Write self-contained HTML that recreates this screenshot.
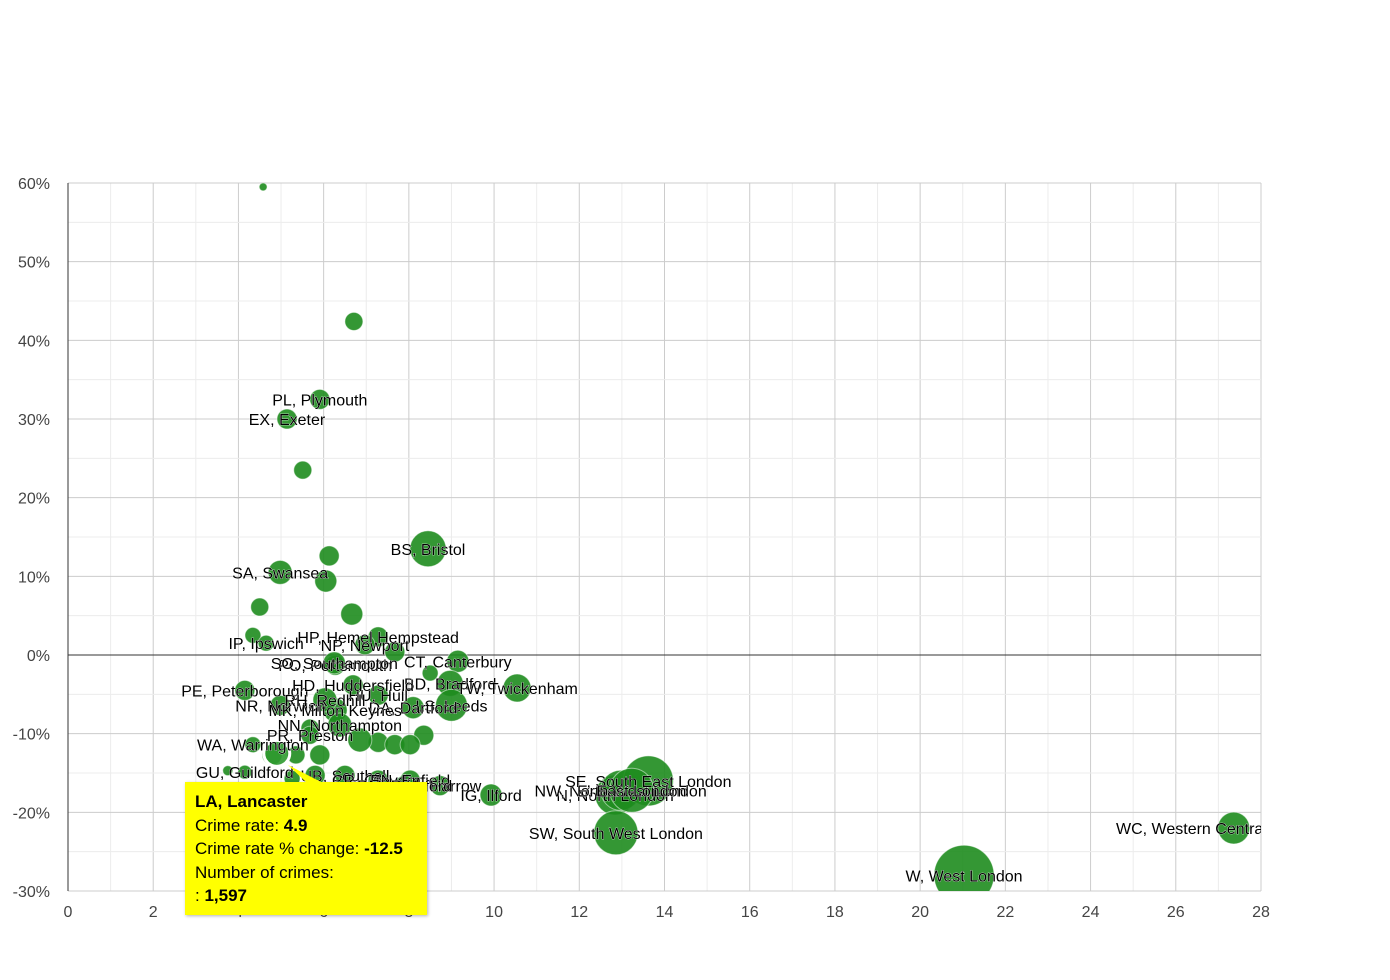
<!DOCTYPE html>
<html><head><meta charset="utf-8"><style>
body{margin:0;background:#fff;}
svg{display:block;font-family:"Liberation Sans",Arial,sans-serif;}
</style></head><body>
<svg id="chart" width="1390" height="980"></svg>
<script>
const codes=["X1","X2","PL, Plymouth","EX, Exeter","X5","BS, Bristol","X7","SA, Swansea","X9","X10","X11","X12","IP, Ipswich","HP, Hemel Hempstead","NP, Newport","CT, Canterbury","X17","PO, Portsmouth","SO, Southampton","X20","BD, Bradford","TW, Twickenham","PE, Peterborough","NR, Norwich","LS, Leeds","DA, Dartford","MK, Milton Keynes","HU, Hull","HD, Huddersfield","RH, Redhill","X31","NN, Northampton","X33","PR, Preston","X35","X36","X37","X38","X39","X40","WA, Warrington","X42","LA, Lancaster","X44","GU, Guildford","X46","X47","UB, Southall","CR, Croydon","EN, Enfield","HA, Harrow","IG, Ilford","N, North London","NW, North West London","SE, South East London","E, East London","SW, South West London","W, West London","WC, Western Central London","RM, Romford"];
const crimeRate=[4.58,6.71,5.91,5.14,5.51,8.45,6.13,4.98,6.05,4.5,6.66,4.34,4.65,7.28,6.97,9.15,7.67,6.27,6.25,8.5,8.97,10.54,4.15,4.98,9.0,8.1,6.27,7.28,6.69,6.03,8.35,6.38,5.68,5.68,7.28,7.67,8.03,6.85,5.35,5.91,4.34,4.79,4.9,3.75,4.15,5.26,5.8,6.5,7.28,8.03,8.73,9.93,12.84,12.97,13.62,13.23,12.86,21.03,27.36,7.9];
const pctChange=[59.5,42.4,32.5,30.0,23.5,13.5,12.6,10.5,9.4,6.1,5.2,2.5,1.5,2.3,1.3,-0.8,0.4,-1.3,-1.0,-2.3,-3.6,-4.2,-4.5,-6.4,-6.4,-6.7,-7.0,-5.1,-3.8,-5.7,-10.2,-8.9,-9.3,-10.2,-11.1,-11.4,-11.4,-10.8,-12.7,-12.7,-11.4,-12.7,-12.5,-14.7,-14.9,-15.7,-15.3,-15.3,-15.9,-15.9,-16.6,-17.8,-17.8,-17.2,-16.0,-17.2,-22.6,-28.0,-22.0,-16.6];
const crimes=[150,770,950,950,770,3070,950,1360,1150,770,1150,600,600,950,950,1150,950,950,1150,600,1600,1850,950,950,2400,1150,1360,950,950,1360,950,1360,770,770,950,950,950,1360,770,950,600,950,1597,240,460,600,950,950,950,950,950,1150,3790,3790,5920,4580,4580,8520,2400,950];
const xTicks=[0,2,4,6,8,10,12,14,16,18,20,22,24,26,28];
const yTicks=[60,50,40,30,20,10,0,-10,-20,-30];
const X0=68,X1=1261,Y0=183,Y1=891;
const xs=v=>X0+(v/28)*(X1-X0);
const ys=v=>Y0+(60-v)/90*(Y1-Y0);
const rs=n=>0.325*Math.sqrt(n);
const NS="http://www.w3.org/2000/svg";
const svg=document.getElementById('chart');
function mk(t,a,p){const e=document.createElementNS(NS,t);for(const k in a)e.setAttribute(k,a[k]);(p||svg).appendChild(e);return e;}
const defs=mk('defs',{});const cp=mk('clipPath',{id:'pc'},defs);mk('rect',{x:X0,y:Y0,width:X1-X0,height:Y1-Y0},cp);
const grid=mk('g',{});


for(let v=0;v<=28;v++){mk('line',{x1:xs(v),x2:xs(v),y1:Y0,y2:Y1,stroke:v%2?'#ececec':'#cccccc','stroke-width':1},grid);}
for(let v=-30;v<=60;v+=5){mk('line',{x1:X0,x2:X1,y1:ys(v),y2:ys(v),stroke:v%10?'#ececec':'#cccccc','stroke-width':1},grid);}
mk('line',{x1:X0,x2:X1,y1:ys(0),y2:ys(0),stroke:'#333','stroke-width':1});
mk('line',{x1:X0,x2:X0,y1:Y0,y2:Y1,stroke:'#333','stroke-width':1});
xTicks.forEach(v=>{const t=mk('text',{x:xs(v),y:917,'text-anchor':'middle','font-size':16,fill:'#444'});t.textContent=v;

});
yTicks.forEach(v=>{const t=mk('text',{x:50,y:ys(v)+6,'text-anchor':'end','font-size':16,fill:'#444'});t.textContent=v+'%';

});
const plot=mk('g',{'clip-path':'url(#pc)'});
crimeRate.forEach((v,i)=>{const c=mk('circle',{cx:xs(v),cy:ys(pctChange[i]),r:rs(crimes[i]),fill:'#1e8c1e','fill-opacity':0.9,stroke:'#ffffff','stroke-opacity':0.5,'stroke-width':1},plot);


if(codes[i]==='LA, Lancaster'){c.setAttribute('stroke','#fff');c.setAttribute('stroke-opacity',1);c.setAttribute('stroke-width',3);c.setAttribute('fill','#2f9a2f');}});
const lab=mk('g',{'clip-path':'url(#pc)'});
codes.forEach((n,i)=>{if(n.startsWith('X')||n==='LA, Lancaster')return;const t=mk('text',{x:xs(crimeRate[i]),y:ys(pctChange[i])+6,'text-anchor':n.startsWith('WC')?'start':'middle','font-size':16,fill:'#000',stroke:'#fff','stroke-width':0.6,'paint-order':'stroke'},lab);
if(n.startsWith('WC'))t.setAttribute('x',1116);
t.textContent=n;

});
</script>
<div style="position:absolute;left:185px;top:782px;width:242px;height:133px;background:#ffff00;box-shadow:1px 1px 3px rgba(0,0,0,0.3);font-family:'Liberation Sans',Arial,sans-serif;font-size:17px;line-height:23.5px;color:#000;box-sizing:border-box;padding:8px 10px;">
<div style="font-weight:bold">LA, Lancaster</div>
<div>Crime rate: <b>4.9</b></div>
<div>Crime rate % change: <b>-12.5</b></div>
<div>Number of crimes:</div>
<div>: <b>1,597</b></div>
</div>
<svg style="position:absolute;left:0;top:0" width="1390" height="980"><polygon points="288,765 307,783 323,783" fill="#ffff00"/></svg>
</body></html>
